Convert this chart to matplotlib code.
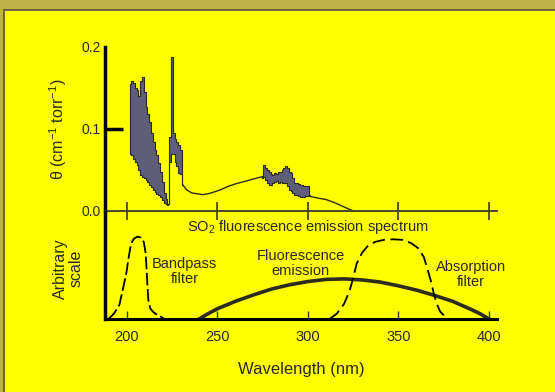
import matplotlib
matplotlib.use("Agg")
import matplotlib.pyplot as plt
from matplotlib.patches import Rectangle

plt.rcParams['font.family'] = ['Liberation Sans', 'DejaVu Sans']
plt.rcParams['mathtext.default'] = 'regular'

# --- gorny panel: widmo absorpcji SO2 ---
# pasmo "szumu" 202-223 nm (gorna i dolna obwiednia)
wl1 = [202, 203, 204, 205, 206, 207, 208, 209, 210, 211, 212, 213, 214, 215,
       216, 217, 218, 219, 220, 221, 222, 223]
top1 = [0.155, 0.158, 0.156, 0.150, 0.148, 0.140, 0.158, 0.163, 0.145, 0.127,
        0.118, 0.108, 0.095, 0.084, 0.075, 0.068, 0.058, 0.048, 0.035, 0.022,
        0.015, 0.008]
low1 = [0.070, 0.068, 0.064, 0.060, 0.056, 0.050, 0.044, 0.042, 0.040, 0.038,
        0.035, 0.032, 0.029, 0.026, 0.023, 0.021, 0.020, 0.017, 0.013, 0.010,
        0.008, 0.007]

# pik przy 225 nm
wl2 = [223, 224, 225, 226, 227, 228, 229, 230, 231]
top2 = [0.008, 0.090, 0.188, 0.095, 0.088, 0.084, 0.080, 0.075, 0.032]
low2 = [0.008, 0.060, 0.070, 0.070, 0.060, 0.055, 0.046, 0.045, 0.032]

# gladka czesc
wl3 = [231, 233, 236, 239, 242, 245, 248, 252, 256, 260, 265, 270, 275]
v3 = [0.032, 0.026, 0.022, 0.021, 0.020, 0.021, 0.023, 0.026, 0.030, 0.033,
      0.036, 0.039, 0.042]

# drugie pasmo 275-301 nm
wl4 = [275, 276, 277, 278, 279, 280, 281, 282, 283, 284, 285, 286, 287, 288,
       289, 290, 291, 292, 293, 294, 295, 296, 297, 298, 299, 300, 301]
top4 = [0.042, 0.056, 0.052, 0.050, 0.047, 0.045, 0.044, 0.046, 0.045, 0.048,
        0.047, 0.050, 0.053, 0.055, 0.052, 0.048, 0.046, 0.040, 0.034, 0.034,
        0.033, 0.032, 0.032, 0.031, 0.031, 0.030, 0.020]
low4 = [0.040, 0.041, 0.038, 0.034, 0.032, 0.032, 0.034, 0.035, 0.036, 0.034,
        0.035, 0.034, 0.034, 0.034, 0.030, 0.026, 0.024, 0.022, 0.020, 0.020,
        0.018, 0.017, 0.017, 0.017, 0.018, 0.018, 0.018]

# ogon
wl5 = [301, 305, 310, 315, 320, 325]
v5 = [0.018, 0.016, 0.014, 0.010, 0.005, 0.0]

# --- dolny panel: filtry i emisja (skala umowna) ---
wl_bp = [190, 193, 196, 198, 200, 201, 202, 203, 204, 206, 208, 209.5, 210.5,
         211, 211.5, 212, 213, 215, 218, 221]
bp = [0.0, 0.05, 0.13, 0.28, 0.44, 0.56, 0.66, 0.72, 0.75, 0.77, 0.76, 0.72,
      0.62, 0.48, 0.32, 0.18, 0.10, 0.06, 0.03, 0.0]

wl_fl = [240, 245, 250, 260, 270, 280, 290, 300, 310, 320, 330, 340, 350, 360,
         370, 380, 390, 395, 400]
fl = [0.0, 0.05, 0.095, 0.165, 0.225, 0.28, 0.32, 0.35, 0.37, 0.375, 0.365,
      0.345, 0.31, 0.27, 0.22, 0.165, 0.09, 0.05, 0.0]

wl_ab = [312, 316, 320, 323, 325, 327, 330, 333, 337, 342, 347, 352, 357, 361,
         364, 366, 368, 369.5, 371, 373, 377]
ab = [0.0, 0.05, 0.14, 0.26, 0.38, 0.52, 0.62, 0.68, 0.72, 0.74, 0.745, 0.74,
      0.71, 0.66, 0.58, 0.47, 0.35, 0.24, 0.15, 0.07, 0.0]

x_ticks = [200, 250, 300, 350, 400]

ciemny = '#2b2b1e'
pasmo = '#5e5e78'
zolty = '#ffff00'

fig = plt.figure(figsize=(5.55, 3.92), dpi=100, facecolor='#bdb246')
# zolte tlo z ciemna krawedzia
tlo = Rectangle((4 / 555, -0.01), 1, 1.01 - 10 / 392, transform=fig.transFigure,
                facecolor=zolty, edgecolor='#5a5430', linewidth=1.2, zorder=-10)
fig.add_artist(tlo)

xlim = (188.1, 404.4)

# gorny wykres
ax1 = fig.add_axes([105 / 555, 1 - 211 / 392, 392 / 555, 164 / 392])
ax1.patch.set_visible(False)
ax1.fill_between(wl1, low1, top1, step='mid', facecolor=pasmo, edgecolor=ciemny, linewidth=0.8)
ax1.fill_between(wl2, low2, top2, step='mid', facecolor=pasmo, edgecolor=ciemny, linewidth=0.8)
ax1.fill_between(wl4, low4, top4, step='mid', facecolor=pasmo, edgecolor=ciemny, linewidth=0.8)
ax1.plot(wl3, v3, color=ciemny, lw=1.0)
ax1.plot(wl5, v5, color=ciemny, lw=1.0)
ax1.set_xlim(xlim)
ax1.set_ylim(0, 0.2)
ax1.set_yticks([0.0, 0.1, 0.2])
ax1.set_yticklabels(['0.0', '0.1', '0.2'])
ax1.tick_params(axis='y', direction='in', length=13, width=2.5, colors='black',
                labelcolor=ciemny, labelsize=10, pad=3)
ax1.yaxis.get_major_ticks()[0].tick1line.set_visible(False)
ax1.yaxis.get_major_ticks()[2].tick1line.set_visible(False)
ax1.set_xticks(x_ticks)
ax1.tick_params(axis='x', direction='inout', length=13, width=1.2, colors='#3a3a2a',
                labelbottom=False)
for s in ['top', 'right']:
    ax1.spines[s].set_visible(False)
ax1.spines['left'].set_linewidth(2.5)
ax1.spines['bottom'].set_color('#3a3a2a')
ax1.spines['bottom'].set_linewidth(1.3)
ax1.set_ylabel(r'$\theta$ (cm$^{-1}$ torr$^{-1}$)', fontsize=11.5, color=ciemny, labelpad=9)
ax1.text(300, -0.02, r'SO$_2$ fluorescence emission spectrum', ha='center', va='center',
         fontsize=10.5, color=ciemny)

# dolny wykres
ax2 = fig.add_axes([105 / 555, 1 - 319 / 392, 392 / 555, 107 / 392])
ax2.patch.set_visible(False)
ax2.plot(wl_bp, bp, color='black', lw=1.3, linestyle=(0, (7, 2)))
ax2.plot(wl_fl, fl, color=ciemny, lw=2.6)
ax2.plot(wl_ab, ab, color='black', lw=1.3, linestyle=(0, (7, 3)))
ax2.set_xlim(xlim)
ax2.set_ylim(0, 1)
ax2.set_yticks([])
ax2.set_xticks(x_ticks)
ax2.set_xticklabels([str(t) for t in x_ticks])
ax2.tick_params(axis='x', direction='in', length=6, width=1.0, colors='#3a3a2a',
                labelcolor=ciemny, labelsize=10.5, pad=8)
for s in ['top', 'right']:
    ax2.spines[s].set_visible(False)
ax2.spines['left'].set_linewidth(2.5)
ax2.spines['bottom'].set_linewidth(2.2)
ax2.set_xlabel('Wavelength (nm)', fontsize=12, color=ciemny, labelpad=13)
ax2.set_ylabel('Arbitrary\nscale', fontsize=11.5, color=ciemny, linespacing=1.0)
ax2.yaxis.set_label_coords(-0.055, 0.47)

ax2.text(232, 0.44, 'Bandpass\nfilter', ha='center', va='center', fontsize=10.5,
         color=ciemny, linespacing=1.1)
ax2.text(296, 0.52, 'Fluorescence\nemission', ha='center', va='center', fontsize=10.5,
         color=ciemny, linespacing=1.1)
ax2.text(390, 0.42, 'Absorption\nfilter', ha='center', va='center', fontsize=10.5,
         color=ciemny, linespacing=1.1)

fig.savefig('out.png', dpi=100, facecolor=fig.get_facecolor())
